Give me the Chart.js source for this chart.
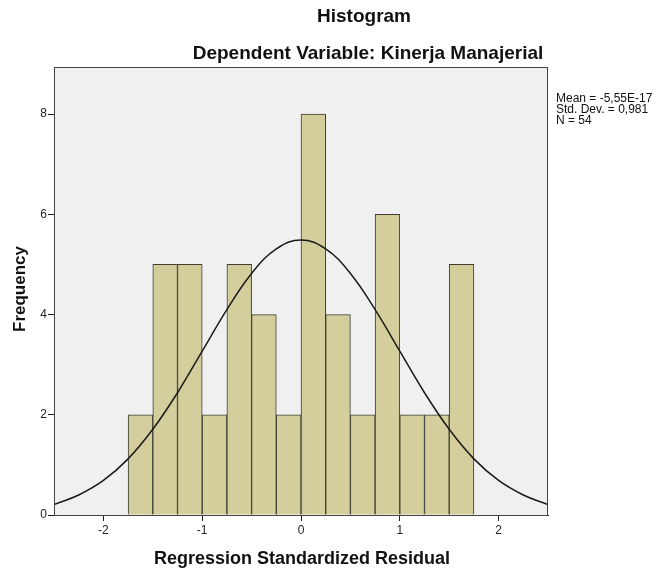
<!DOCTYPE html>
<html>
<head>
<meta charset="utf-8">
<script src="https://cdn.jsdelivr.net/npm/chart.js"></script>
<style>
  html, body { margin:0; padding:0; background:#fff; }
  #wrap { width:660px; height:573px; }
</style>
</head>
<body>
<div id="wrap"><canvas id="hist"></canvas></div>
<script>
// histogram bins (centres, width 0.25) and counts
const binCenters = [-1.625,-1.375,-1.125,-0.875,-0.625,-0.375,-0.125,0.125,0.375,0.625,0.875,1.125,1.375,1.625];
const binCounts  = [2,5,5,2,5,4,2,8,4,2,6,2,2,5];
// normal curve, every 0.25
const curveX = [-2.5,-2.25,-2,-1.75,-1.5,-1.25,-1,-0.75,-0.5,-0.25,0,0.25,0.5,0.75,1,1.25,1.5,1.75,2,2.25,2.5];
const curveY = [0.21,0.40,0.69,1.12,1.71,2.44,3.27,4.10,4.82,5.31,5.49,5.31,4.82,4.10,3.27,2.44,1.71,1.12,0.69,0.40,0.21];
const xTicks = [-2,-1,0,1,2];
const yTicks = [0,2,4,6,8];
const titleLines = ['Histogram', 'Dependent Variable: Kinerja Manajerial'];
const statLines = ['Mean = -5,55E-17', 'Std. Dev. = 0,981', 'N = 54'];
const xTitle = 'Regression Standardized Residual';
const yTitle = 'Frequency';

const FONT = '"Liberation Sans", Arial, sans-serif';

const decor = {
    id: 'decor',
    beforeDraw(chart){
        const {ctx, chartArea:a} = chart;
        ctx.save();
        ctx.fillStyle = '#f0f0f0';
        ctx.fillRect(a.left, a.top, a.right - a.left, a.bottom - a.top);
        ctx.restore();
    },
    afterDraw(chart){
        const {ctx, chartArea:a} = chart;
        ctx.save();
        ctx.strokeStyle = '#444';
        ctx.lineWidth = 1;
        ctx.strokeRect(a.left + 0.5, a.top + 0.5, a.right - a.left - 1, a.bottom - a.top);
        ctx.fillStyle = '#111';
        ctx.textAlign = 'center';
        ctx.textBaseline = 'middle';
        ctx.font = 'bold 19px ' + FONT;
        ctx.fillText(titleLines[0], 364, 17);
        ctx.fillText(titleLines[1], 368, 54);
        ctx.font = 'bold 18px ' + FONT;
        ctx.fillText(xTitle, 302, 559);
        ctx.save();
        ctx.font = 'bold 17px ' + FONT;
        ctx.translate(20, 289);
        ctx.rotate(-Math.PI / 2);
        ctx.fillText(yTitle, 0, 0);
        ctx.restore();
        ctx.textAlign = 'left';
        ctx.font = '12px ' + FONT;
        statLines.forEach((s, i) => ctx.fillText(s, a.right + 8, 99 + i * 11));
        ctx.restore();
    }
};

new Chart(document.getElementById('hist'), {
    data: {
        datasets: [
            {
                type: 'bar',
                order: 2,
                data: binCenters.map((c, i) => ({x: c, y: binCounts[i]})),
                backgroundColor: '#d3ce9b',
                borderColor: '#3e3d33',
                borderWidth: 1,
                barPercentage: 1,
                categoryPercentage: 1
            },
            {
                type: 'line',
                order: 1,
                data: curveX.map((x, i) => ({x: x, y: curveY[i]})),
                borderColor: '#1a1a1a',
                borderWidth: 1.5,
                pointRadius: 0,
                tension: 0.4,
                fill: false
            }
        ]
    },
    options: {
        responsive: true,
        maintainAspectRatio: false,
        animation: false,
        layout: { padding: { top: 67, right: 112, left: 0, bottom: 0 } },
        plugins: { legend: { display: false }, tooltip: { enabled: false } },
        scales: {
            x: {
                type: 'linear',
                min: -2.5, max: 2.5,
                offset: false,
                afterBuildTicks: s => { s.ticks = xTicks.map(v => ({value: v})); },
                afterFit: s => { s.height = 58; },
                grid: { offset: false, drawOnChartArea: false, drawTicks: true, tickLength: 6, color: '#222' },
                border: { display: true, color: '#222' },
                ticks: { color: '#222', font: { family: FONT, size: 12 }, padding: 2, callback: v => String(v) }
            },
            y: {
                type: 'linear',
                min: 0, max: 8.94,
                afterBuildTicks: s => { s.ticks = yTicks.map(v => ({value: v})); },
                afterFit: s => { s.width = 54; },
                grid: { drawOnChartArea: false, drawTicks: true, tickLength: 6, color: '#222' },
                border: { display: true, color: '#222' },
                ticks: { color: '#222', font: { family: FONT, size: 12 }, padding: 1, callback: v => String(v) }
            }
        }
    },
    plugins: [decor]
});
</script>
</body>
</html>
